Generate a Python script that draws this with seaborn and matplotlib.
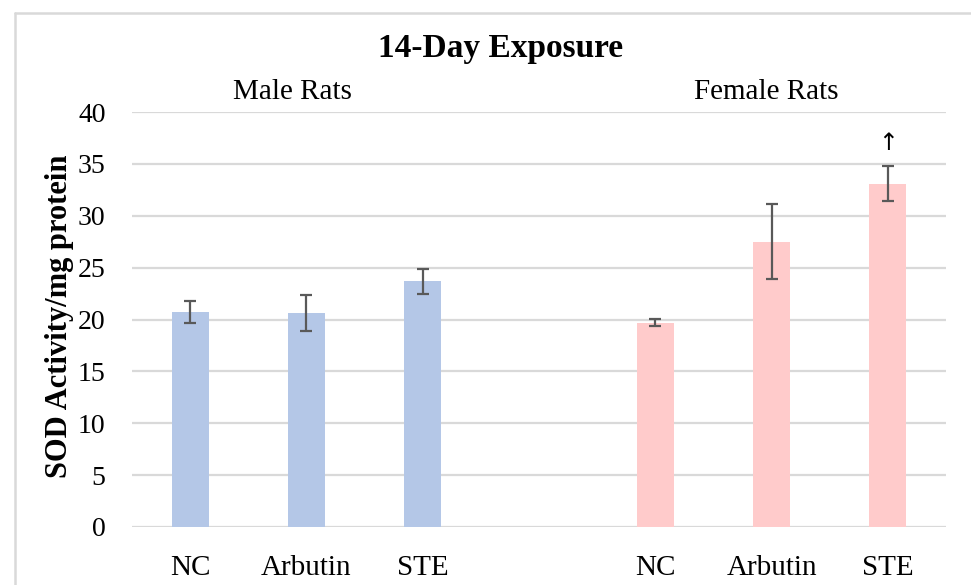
import matplotlib
matplotlib.use("Agg")
import matplotlib.pyplot as plt
import seaborn as sns
import pandas as pd
import numpy as np
from matplotlib.lines import Line2D

# ---- data ----
slots = ["M-NC", "M-Arbutin", "M-STE", "gap", "F-NC", "F-Arbutin", "F-STE"]
male_groups = ["M-NC", "M-Arbutin", "M-STE"]
female_groups = ["F-NC", "F-Arbutin", "F-STE"]
male_values = [20.7, 20.6, 23.7]
male_errors = [1.05, 1.75, 1.2]
female_values = [19.7, 27.5, 33.1]
female_errors = [0.35, 3.6, 1.7]
tick_labels = ["NC", "Arbutin", "STE", "", "NC", "Arbutin", "STE"]
title = "14-Day Exposure"
ylabel = "SOD Activity/mg protein"
group_titles = ["Male Rats", "Female Rats"]

df = pd.DataFrame({
    "slot": male_groups + female_groups,
    "value": male_values + female_values,
    "err": male_errors + female_errors,
    "sex": ["Male"] * 3 + ["Female"] * 3,
})

sns.set_theme(style="white")
plt.rcParams["font.family"] = ["Liberation Serif", "DejaVu Serif"]
plt.rcParams["text.color"] = "black"
plt.rcParams["xtick.color"] = "black"
plt.rcParams["ytick.color"] = "black"

fig = plt.figure(figsize=(9.71, 5.85), dpi=100)
ax = fig.add_axes([132 / 971, 1 - 527 / 585, (946 - 132) / 971, (527 - 112) / 585])

sns.barplot(data=df, x="slot", y="value", hue="sex", order=slots,
            palette={"Male": "#B4C7E7", "Female": "#FFCBCB"},
            dodge=False, width=0.32, errorbar=None, legend=False, ax=ax,
            zorder=3, saturation=1, linewidth=0)

xpos = [slots.index(s) for s in df["slot"]]
ax.errorbar(xpos, df["value"], yerr=df["err"], fmt="none", ecolor="#595959",
            elinewidth=1.6, capsize=4.5, capthick=1.6, zorder=4)

ax.set_ylim(0, 40)
ax.set_xlim(-0.5, 6.5)
ax.set_yticks(np.arange(0, 41, 5))
ax.set_xticks(range(len(slots)))
ax.set_xticklabels(tick_labels)
ax.tick_params(axis="x", length=0, pad=20, labelsize=21, colors="black")
ax.tick_params(axis="y", length=0, pad=19, labelsize=20, colors="black")
ax.grid(axis="y", color="#D9D9D9", linewidth=1.6, zorder=0)
ax.set_axisbelow(True)
for sp in ax.spines.values():
    sp.set_visible(False)
ax.set_xlabel("")
ax.set_ylabel("")

# group labels
ax.text(0.88, 1.0 + 20 / 415, group_titles[0], transform=ax.get_xaxis_transform(),
        ha="center", va="center", fontsize=21)
ax.text(4.95, 1.0 + 20 / 415, group_titles[1], transform=ax.get_xaxis_transform(),
        ha="center", va="center", fontsize=21)

# arrow above female STE
ax.text(slots.index("F-STE"), 37.0, "\u2191", ha="center", va="center",
        fontsize=17, family=["DejaVu Sans"], color="black")

fig.text(501 / 971, 1 - 49 / 585, title, ha="center", va="center",
         fontsize=24, fontweight="bold")
fig.text(59 / 971, 1 - 316 / 585, ylabel, ha="center", va="center",
         rotation=90, fontsize=22, fontweight="bold")

# chart-area border (light gray), cropped at right/bottom
fig.add_artist(Line2D([15 / 971, 1.0], [1 - 13 / 585, 1 - 13 / 585],
                      transform=fig.transFigure, color="#D9D9D9", linewidth=1.8))
fig.add_artist(Line2D([15 / 971, 15 / 971], [0.0, 1 - 13 / 585],
                      transform=fig.transFigure, color="#D9D9D9", linewidth=1.8))

fig.savefig("out.png", dpi=100)
